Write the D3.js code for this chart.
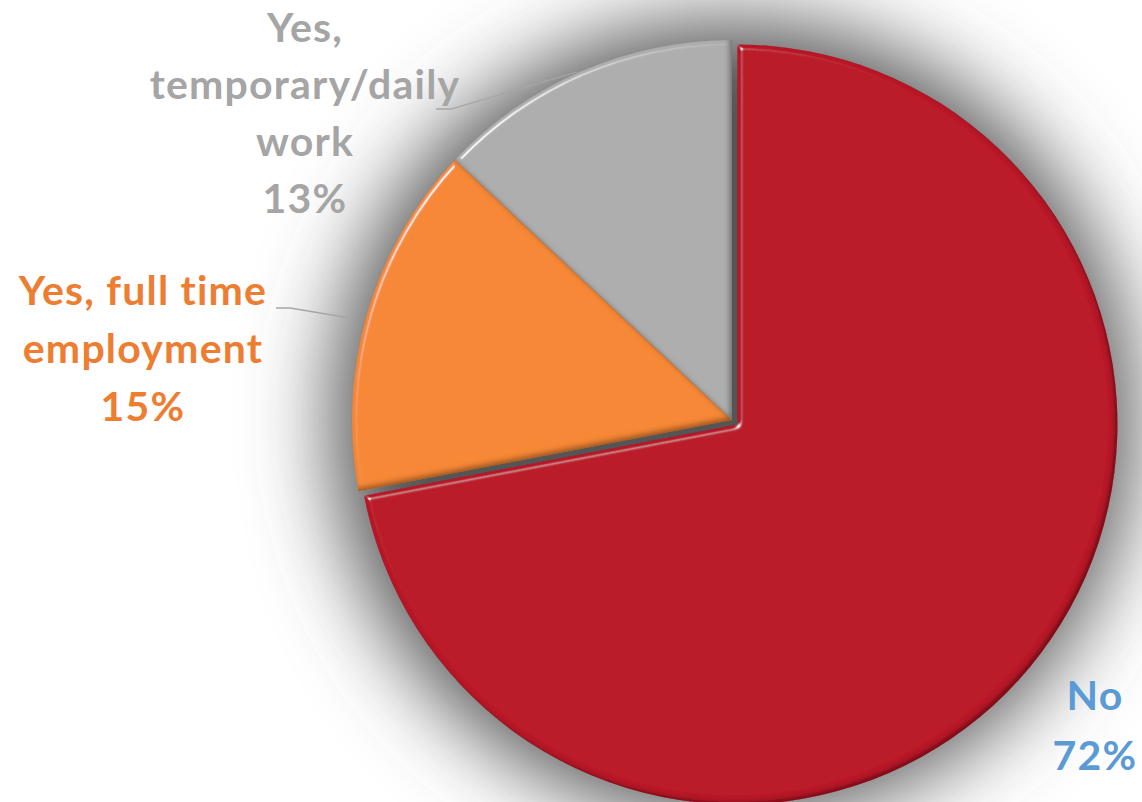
<!DOCTYPE html>
<html>
<head>
<meta charset="utf-8">
<script src="https://cdn.jsdelivr.net/npm/d3@7"></script>
<style>
  body { margin: 0; background: #fff; }
  svg { display: block; }
</style>
</head>
<body>
<svg width="1142" height="802"></svg>
<script>
// data
var categories = ["No", "Yes, full time employment", "Yes, temporary/daily work"];
var values = [72, 15, 13];
var sliceColors = ["#BA1E2C", "#F68837", "#AEAEAE"];
var labelColors = ["#5B9BD5", "#ED7D31", "#A5A5A5"];
var labelLines = [["No", "72%"], ["Yes, full time", "employment", "15%"], ["Yes,", "temporary/daily", "work", "13%"]];

var svg = d3.select("svg");
var cx = 732, cy = 420, radius = 380;

var defs = svg.append("defs");

// soft glow shadow behind the pie
var shadow = defs.append("filter").attr("id", "shadow")
    .attr("x", "-50%").attr("y", "-50%").attr("width", "200%").attr("height", "200%");
shadow.append("feGaussianBlur").attr("stdDeviation", 42);

// bevel: highlight on upper-left edges, shade on lower-right edges
var bevel = defs.append("filter").attr("id", "bevel")
    .attr("x", "-10%").attr("y", "-10%").attr("width", "120%").attr("height", "120%");
bevel.append("feGaussianBlur").attr("in", "SourceAlpha").attr("stdDeviation", 2.5).attr("result", "blur");
var spec = bevel.append("feSpecularLighting").attr("in", "blur").attr("surfaceScale", 5)
    .attr("specularConstant", 1).attr("specularExponent", 40)
    .attr("lighting-color", "#ffffff").attr("result", "spec");
spec.append("feDistantLight").attr("azimuth", 225).attr("elevation", 30);
bevel.append("feComposite").attr("in", "spec").attr("in2", "SourceAlpha").attr("operator", "in").attr("result", "specIn");
bevel.append("feOffset").attr("in", "blur").attr("dx", -3).attr("dy", -3).attr("result", "off");
bevel.append("feComposite").attr("in", "SourceAlpha").attr("in2", "off").attr("operator", "out").attr("result", "rim");
bevel.append("feFlood").attr("flood-color", "#000").attr("flood-opacity", 0.6);
bevel.append("feComposite").attr("in2", "rim").attr("operator", "in").attr("result", "shade");
var merge = bevel.append("feMerge");
merge.append("feMergeNode").attr("in", "SourceGraphic");
merge.append("feMergeNode").attr("in", "shade");
merge.append("feMergeNode").attr("in", "specIn");

var g = svg.append("g").attr("transform", "translate(" + cx + "," + cy + ")");

g.append("circle")
    .attr("r", radius + 20)
    .attr("fill", "#555")
    .attr("filter", "url(#shadow)");

var pie = d3.pie().sort(null).value(function(d) { return d; });
var arc = d3.arc().innerRadius(0).outerRadius(radius);
var arcs = pie(values);

g.selectAll("path.slice")
    .data(arcs)
  .enter().append("path")
    .attr("class", "slice")
    .attr("d", arc)
    .attr("fill", function(d, i) { return sliceColors[i]; })
    .attr("transform", function(d, i) {
      if (i !== 0) return null;
      var a = (d.startAngle + d.endAngle) / 2;
      return "translate(" + (Math.sin(a) * 7) + "," + (-Math.cos(a) * 7) + ")";
    })
    .attr("filter", "url(#bevel)");

// leader lines
var leaders = [
  null,
  [[276, 308], [290, 308], [350, 318]],
  [[436, 109], [451, 109], [577, 72]]
];
var line = d3.line();
svg.selectAll("path.leader")
    .data(leaders.filter(function(d) { return d; }))
  .enter().append("path")
    .attr("class", "leader")
    .attr("d", line)
    .attr("fill", "none")
    .attr("stroke", "#A6A6A6")
    .attr("stroke-width", 1.3);

// labels
var labelPos = [[1095, 710], [143, 305], [305, 42]];
var lineHeights = [60, 58, 57];
labelLines.forEach(function(lines, i) {
  var t = svg.append("text")
      .attr("x", labelPos[i][0])
      .attr("y", labelPos[i][1])
      .attr("text-anchor", "middle")
      .attr("fill", labelColors[i])
      .style("font-family", "Lato, 'Open Sans', sans-serif")
      .style("font-weight", "bold")
      .style("font-size", "41px")
      .style("letter-spacing", "1.2px");
  lines.forEach(function(s, j) {
    t.append("tspan")
        .attr("x", labelPos[i][0])
        .attr("dy", j === 0 ? 0 : lineHeights[i])
        .text(s);
  });
});
</script>
</body>
</html>
